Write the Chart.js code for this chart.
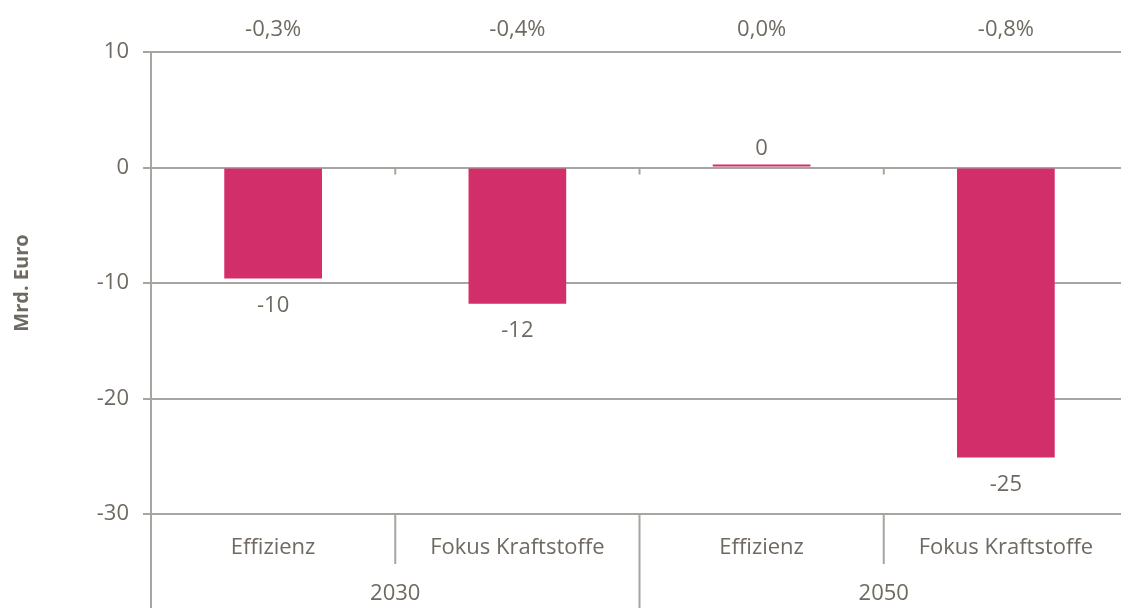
<!DOCTYPE html>
<html lang="de">
<head>
<meta charset="UTF-8">
<title>Mrd. Euro</title>
<script src="https://cdn.jsdelivr.net/npm/chart.js"></script>
<style>
  html, body { margin: 0; padding: 0; background: #fff; overflow: hidden; }
  #box { width: 1121px; height: 608px; overflow: hidden; }
  #inner { width: 1128px; height: 608px; position: relative; }
</style>
</head>
<body>
<div id="box"><div id="inner"><canvas id="grafico"></canvas></div></div>
<script>
// dados
var categorias = ['Effizienz', 'Fokus Kraftstoffe', 'Effizienz', 'Fokus Kraftstoffe'];
var grupos = ['2030', '2050'];
var valores = [-9.6, -11.8, 0.25, -25.1];
var percentuais = ['-0,3%', '-0,4%', '0,0%', '-0,8%'];
var ticksY = [10, 0, -10, -20, -30];

var corTexto = '#6f6a61';
var corLinha = '#a7a59f';
var corBarra = '#d22e69';
var fonte = 'Open Sans';
var tam = 22;

var extras = {
  id: 'extras',
  afterDraw: function (chart) {
    var ctx = chart.ctx;
    var x = chart.scales.x;
    var y = chart.scales.y;
    var area = chart.chartArea;
    var base = chart.height;
    var meta = chart.getDatasetMeta(0);
    var largura = (area.right - area.left) / categorias.length;

    ctx.save();
    ctx.strokeStyle = corLinha;
    ctx.lineWidth = 2;

    // eixo y estendido ate o fim
    ctx.beginPath();
    ctx.moveTo(area.left, area.top);
    ctx.lineTo(area.left, base);
    ctx.stroke();

    // marcas no zero e separadores embaixo
    var y0 = y.getPixelForValue(0);
    for (var i = 1; i < categorias.length; i++) {
      var xb = x.getPixelForValue(i) - largura / 2;
      ctx.beginPath();
      ctx.moveTo(xb, y0);
      ctx.lineTo(xb, y0 + 7);
      ctx.stroke();

      ctx.beginPath();
      ctx.moveTo(xb, area.bottom);
      ctx.lineTo(xb, i == 2 ? base : area.bottom + 50);
      ctx.stroke();
    }

    ctx.fillStyle = corTexto;
    ctx.font = tam + 'px "' + fonte + '"';
    ctx.textAlign = 'center';

    // rotulos dos anos
    ctx.textBaseline = 'middle';
    for (var g = 0; g < grupos.length; g++) {
      var xa = x.getPixelForValue(g * 2) - largura / 2;
      var xb2 = x.getPixelForValue(g * 2 + 1) + largura / 2;
      ctx.fillText(grupos[g], (xa + xb2) / 2, 594);
    }

    // percentuais em cima
    for (var p = 0; p < percentuais.length; p++) {
      ctx.fillText(percentuais[p], x.getPixelForValue(p), 30);
    }

    // valores nas barras
    meta.data.forEach(function (bar, k) {
      var v = valores[k];
      var txt = String(Math.round(v));
      ctx.textBaseline = 'middle';
      if (v < 0) {
        ctx.fillText(txt, bar.x, bar.y + 27);
      } else {
        ctx.fillText(txt, bar.x, bar.y - 16);
      }
    });
    ctx.restore();
  }
};

var config = {
  type: 'bar',
  data: {
    labels: categorias,
    datasets: [{
      data: valores,
      backgroundColor: corBarra,
      borderWidth: 0,
      categoryPercentage: 1,
      barPercentage: 0.4
    }]
  },
  options: {
    responsive: true,
    maintainAspectRatio: false,
    animation: false,
    layout: { padding: { top: 52, right: 0, left: 1, bottom: 0 } },
    plugins: {
      legend: { display: false },
      tooltip: { enabled: false }
    },
    scales: {
      x: {
        grid: { display: false, drawTicks: false },
        border: { display: false },
        ticks: {
          color: corTexto,
          font: { family: fonte, size: tam },
          padding: 21,
          maxRotation: 0,
          autoSkip: false
        },
        afterFit: function (s) { s.height = 94; }
      },
      y: {
        min: -30,
        max: 10,
        afterBuildTicks: function (s) { s.ticks = ticksY.map(function (v) { return { value: v }; }); },
        grid: { color: corLinha, lineWidth: 2, tickLength: 8 },
        border: { display: false },
        ticks: {
          color: corTexto,
          font: { family: fonte, size: tam },
          padding: 14
        },
        title: {
          display: true,
          text: 'Mrd. Euro',
          color: corTexto,
          font: { family: fonte, size: 20, weight: 'bold' },
          padding: { top: 9, bottom: 0 }
        },
        afterFit: function (s) { s.width = 150; }
      }
    }
  },
  plugins: [extras]
};

new Chart(document.getElementById('grafico'), config);
</script>
</body>
</html>
